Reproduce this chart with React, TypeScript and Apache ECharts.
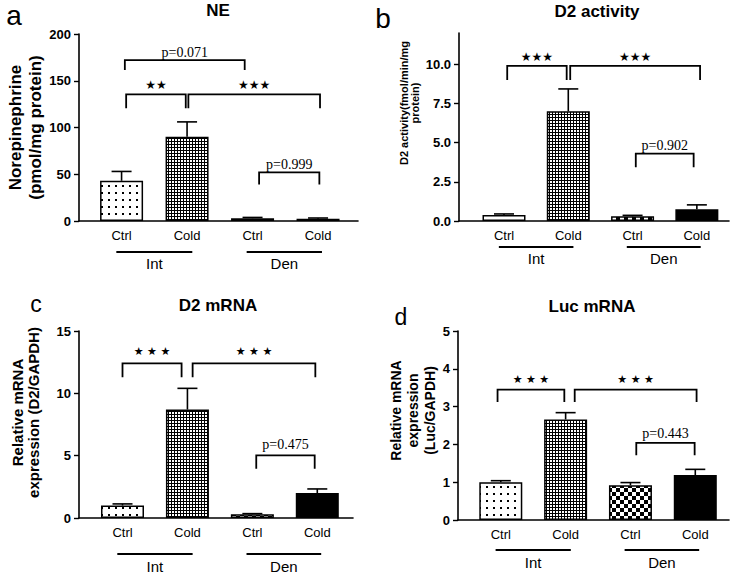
import React, { useEffect, useRef } from "react";
import * as echarts from "echarts";

// ---------- data ----------
const categories = ["Ctrl", "Cold", "Ctrl", "Cold"];
const groupNames = ["Int", "Den"];
const groupSpans = [[-0.08, 1.08], [1.91, 3.06]];

const neMean = [43, 90, 3, 2.5];
const neErr = [53, 106, 3.8, 3.2];
const neBrackets = [[0.05, 1.88, 172, 161.5], [0.07, 0.98, 135.5, 120.5], [1.02, 3.03, 135.5, 120.5], [2.1, 3.02, 52, 39]];
const neLabels = ["p=0.071", "★★", "★★★", "p=0.999"];
const neTicks = [0, 50, 100, 150, 200];

const d2aMean = [0.38, 7.0, 0.3, 0.75];
const d2aErr = [0.45, 8.43, 0.36, 1.03];
const d2aBrackets = [[0.05, 0.975, 9.9, 9.0], [1.03, 3.05, 9.9, 9.0], [2.05, 2.95, 4.3, 3.43]];
const d2aLabels = ["★★★", "★★★", "p=0.902"];
const d2aTicks = [0, 2.5, 5, 7.5, 10];

const d2mMean = [1.0, 8.7, 0.3, 2.0];
const d2mErr = [1.13, 10.4, 0.35, 2.33];
const d2mBrackets = [[0.0, 0.91, 12.4, 11.3], [1.08, 2.97, 12.4, 11.3], [2.06, 2.96, 5.03, 3.96]];
const d2mLabels = ["★ ★ ★", "★ ★ ★", "p=0.475"];
const d2mTicks = [0, 5, 10, 15];

const lucMean = [1.0, 2.66, 0.92, 1.19];
const lucErr = [1.04, 2.84, 0.99, 1.34];
const lucBrackets = [[-0.05, 0.98, 3.45, 3.12], [1.14, 3.02, 3.45, 3.12], [2.09, 2.99, 2.04, 1.71]];
const lucLabels = ["★ ★ ★", "★ ★ ★", "p=0.443"];
const lucTicks = [0, 1, 2, 3, 4, 5];

// ---------- styles ----------
const SANS = "'Liberation Sans', Arial, sans-serif";
const SERIF = "'Liberation Serif', 'Times New Roman', serif";
const STAR = "'DejaVu Sans', sans-serif";

function makePattern(kind: string): any {
  const c = document.createElement("canvas");
  const ctx = c.getContext("2d")!;
  if (kind === "dots") {
    c.width = 7; c.height = 7;
    ctx.fillStyle = "#fff"; ctx.fillRect(0, 0, 7, 7);
    ctx.fillStyle = "#000"; ctx.fillRect(3, 3, 2, 2);
  } else if (kind === "grid") {
    c.width = 3; c.height = 3;
    ctx.fillStyle = "#000"; ctx.fillRect(0, 0, 3, 3);
    ctx.fillStyle = "#fff"; ctx.fillRect(1, 1, 2, 2);
  } else {
    c.width = 8; c.height = 8;
    ctx.fillStyle = "#fff"; ctx.fillRect(0, 0, 8, 8);
    ctx.fillStyle = "#000"; ctx.fillRect(0, 0, 4, 4); ctx.fillRect(4, 4, 4, 4);
  }
  return { image: c.toDataURL(), repeat: "repeat", imageWidth: c.width, imageHeight: c.height };
}

type Panel = {
  title: string; letter: string; letterX: number; letterY: number; letterSize: number;
  titleX: number; titleY: number;
  grid: { left: number; top: number; width: number; height: number };
  xmin: number; xmax: number; ymax: number; ticks: number[]; tickFmt: (v: number) => string;
  mean: number[]; err: number[]; brackets: number[][]; labels: string[];
  name: string; nameSize: number; nameLH: number; nameGap: number; nameShift: number;
  starFont: string; labelGap: number; lineOff: number; textOff: number;
};

const panels: Panel[] = [
  {
    title: "NE", letter: "a", letterX: 14, letterY: 15, letterSize: 28, titleX: 218, titleY: 2,
    grid: { left: 79, top: 34, width: 279, height: 187 }, xmin: -0.65, xmax: 3.61, ymax: 200,
    ticks: neTicks, tickFmt: (v) => String(v), mean: neMean, err: neErr, brackets: neBrackets, labels: neLabels,
    name: "Norepinephrine\n(pmol/mg protein)", nameSize: 17, nameLH: 20, nameGap: 29, nameShift: 0,
    starFont: "12px " + STAR, labelGap: 9, lineOff: 31, textOff: 42,
  },
  {
    title: "D2 activity", letter: "b", letterX: 383, letterY: 18, letterSize: 28, titleX: 597, titleY: 3,
    grid: { left: 459, top: 33, width: 270, height: 188 }, xmin: -0.7, xmax: 3.5, ymax: 12,
    ticks: d2aTicks, tickFmt: (v) => v.toFixed(1), mean: d2aMean, err: d2aErr, brackets: d2aBrackets, labels: d2aLabels,
    name: "D2 activity(fmol/min/mg\nprotein)", nameSize: 11, nameLH: 11, nameGap: 39, nameShift: 24,
    starFont: "12px " + STAR, labelGap: 9, lineOff: 26, textOff: 37,
  },
  {
    title: "D2 mRNA", letter: "c", letterX: 36, letterY: 304, letterSize: 23, titleX: 218, titleY: 297,
    grid: { left: 79, top: 331, width: 274, height: 187 }, xmin: -0.67, xmax: 3.55, ymax: 15,
    ticks: d2mTicks, tickFmt: (v) => String(v), mean: d2mMean, err: d2mErr, brackets: d2mBrackets, labels: d2mLabels,
    name: "Relative mRNA\nexpression (D2/GAPDH)", nameSize: 15, nameLH: 16, nameGap: 38, nameShift: 12,
    starFont: "11px " + STAR, labelGap: 12, lineOff: 36, textOff: 48,
  },
  {
    title: "Luc mRNA", letter: "d", letterX: 401, letterY: 317, letterSize: 23, titleX: 592, titleY: 298,
    grid: { left: 458, top: 331, width: 271, height: 189 }, xmin: -0.66, xmax: 3.52, ymax: 5,
    ticks: lucTicks, tickFmt: (v) => String(v), mean: lucMean, err: lucErr, brackets: lucBrackets, labels: lucLabels,
    name: "Relative mRNA\nexpression\n(Luc/GAPDH)", nameSize: 14, nameLH: 17, nameGap: 18, nameShift: 15,
    starFont: "11px " + STAR, labelGap: 10, lineOff: 30, textOff: 42,
  },
];

function buildOption() {
  const fills = [makePattern("dots"), makePattern("grid"), makePattern("checker"), "#000"];
  const grids: any[] = [], xAxes: any[] = [], yAxes: any[] = [], series: any[] = [], titles: any[] = [], graphics: any[] = [];

  panels.forEach((p, gi) => {
    grids.push({ ...p.grid });
    titles.push({
      text: p.title, left: p.titleX, top: p.titleY, textAlign: "center", padding: 0,
      textStyle: { fontFamily: SANS, fontWeight: "bold", fontSize: 17, color: "#000" },
    });
    graphics.push({
      type: "text",
      style: { text: p.letter, x: p.letterX, y: p.letterY, align: "center", verticalAlign: "middle", font: `${p.letterSize}px ${SANS}`, fill: "#000" },
    });
    xAxes.push({
      type: "value", gridIndex: gi, min: p.xmin, max: p.xmax,
      axisLine: { show: true, onZero: false, lineStyle: { color: "#000", width: 1.6 } },
      axisTick: { show: false }, splitLine: { show: false },
      axisLabel: {
        customValues: [0, 1, 2, 3], margin: 8,
        formatter: (v: number) => categories[Math.round(v)] ?? "",
        fontFamily: SANS, fontSize: 13, color: "#000",
      },
    });
    yAxes.push({
      type: "value", gridIndex: gi, min: 0, max: p.ymax,
      name: p.name, nameLocation: "middle", nameGap: p.nameGap,
      nameTextStyle: {
        fontFamily: SANS, fontWeight: "bold", fontSize: p.nameSize, lineHeight: p.nameLH, color: "#000",
        padding: [0, 0, 0, p.nameShift * 2],
      },
      axisLine: { show: true, onZero: false, lineStyle: { color: "#000", width: 1.6 } },
      axisTick: { show: true, customValues: p.ticks, length: 5, lineStyle: { color: "#000", width: 1.4 } },
      splitLine: { show: false },
      axisLabel: {
        customValues: p.ticks, formatter: p.tickFmt, margin: 8,
        fontFamily: SANS, fontWeight: "bold", fontSize: 13, color: "#000",
      },
    });
    series.push({
      type: "bar", xAxisIndex: gi, yAxisIndex: gi, barWidth: 43, z: 2,
      data: p.mean.map((m, i) => ({
        value: [i, m],
        itemStyle: { color: fills[i], borderColor: "#000", borderWidth: 1.5 },
      })),
    });
    series.push({
      type: "custom", xAxisIndex: gi, yAxisIndex: gi, z: 3, clip: false,
      data: p.mean.map((m, i) => [i, m, p.err[i]]),
      renderItem: (params: any, api: any) => {
        const base = api.coord([api.value(0), api.value(1)]);
        const top = api.coord([api.value(0), api.value(2)]);
        return {
          type: "group",
          children: [
            { type: "line", shape: { x1: base[0], y1: base[1], x2: top[0], y2: top[1] }, style: { stroke: "#000", lineWidth: 1.6 } },
            { type: "line", shape: { x1: top[0] - 10, y1: top[1], x2: top[0] + 10, y2: top[1] }, style: { stroke: "#000", lineWidth: 1.6 } },
          ],
        };
      },
    });
    series.push({
      type: "custom", xAxisIndex: gi, yAxisIndex: gi, z: 4, clip: false,
      data: p.brackets,
      renderItem: (params: any, api: any) => {
        const x1 = api.value(0), x2 = api.value(1), t = api.value(2), l = api.value(3);
        const a1 = api.coord([x1, l]), a2 = api.coord([x1, t]), b2 = api.coord([x2, t]), b1 = api.coord([x2, l]);
        const lab = p.labels[params.dataIndex];
        const isStar = lab.indexOf("★") >= 0;
        return {
          type: "group",
          children: [
            { type: "polyline", shape: { points: [a1, a2, b2, b1] }, style: { stroke: "#000", lineWidth: 1.8, fill: "none" } },
            {
              type: "text",
              style: {
                text: lab, x: (a2[0] + b2[0]) / 2, y: a2[1] - p.labelGap + (isStar ? 0 : 1),
                align: "center", verticalAlign: "middle",
                font: isStar ? p.starFont : `14px ${SERIF}`, fill: "#000",
              },
            },
          ],
        };
      },
    });
    series.push({
      type: "custom", xAxisIndex: gi, yAxisIndex: gi, z: 4, clip: false,
      data: groupSpans,
      renderItem: (params: any, api: any) => {
        const s = api.coord([api.value(0), 0]);
        const e = api.coord([api.value(1), 0]);
        const y = s[1];
        return {
          type: "group",
          children: [
            { type: "line", shape: { x1: s[0], y1: y + p.lineOff, x2: e[0], y2: y + p.lineOff }, style: { stroke: "#000", lineWidth: 1.8 } },
            {
              type: "text",
              style: {
                text: groupNames[params.dataIndex], x: (s[0] + e[0]) / 2, y: y + p.textOff,
                align: "center", verticalAlign: "middle", font: `15px ${SANS}`, fill: "#000",
              },
            },
          ],
        };
      },
    });
  });

  return {
    animation: false,
    backgroundColor: "#fff",
    title: titles,
    grid: grids,
    xAxis: xAxes,
    yAxis: yAxes,
    series,
    graphic: graphics,
  };
}

export default function App() {
  const ref = useRef<HTMLDivElement>(null);
  useEffect(() => {
    document.body.style.margin = "0";
    const chart = echarts.init(ref.current!, undefined, { renderer: "svg" });
    chart.setOption(buildOption());
    return () => chart.dispose();
  }, []);
  return <div ref={ref} style={{ width: 742, height: 574 }} />;
}
